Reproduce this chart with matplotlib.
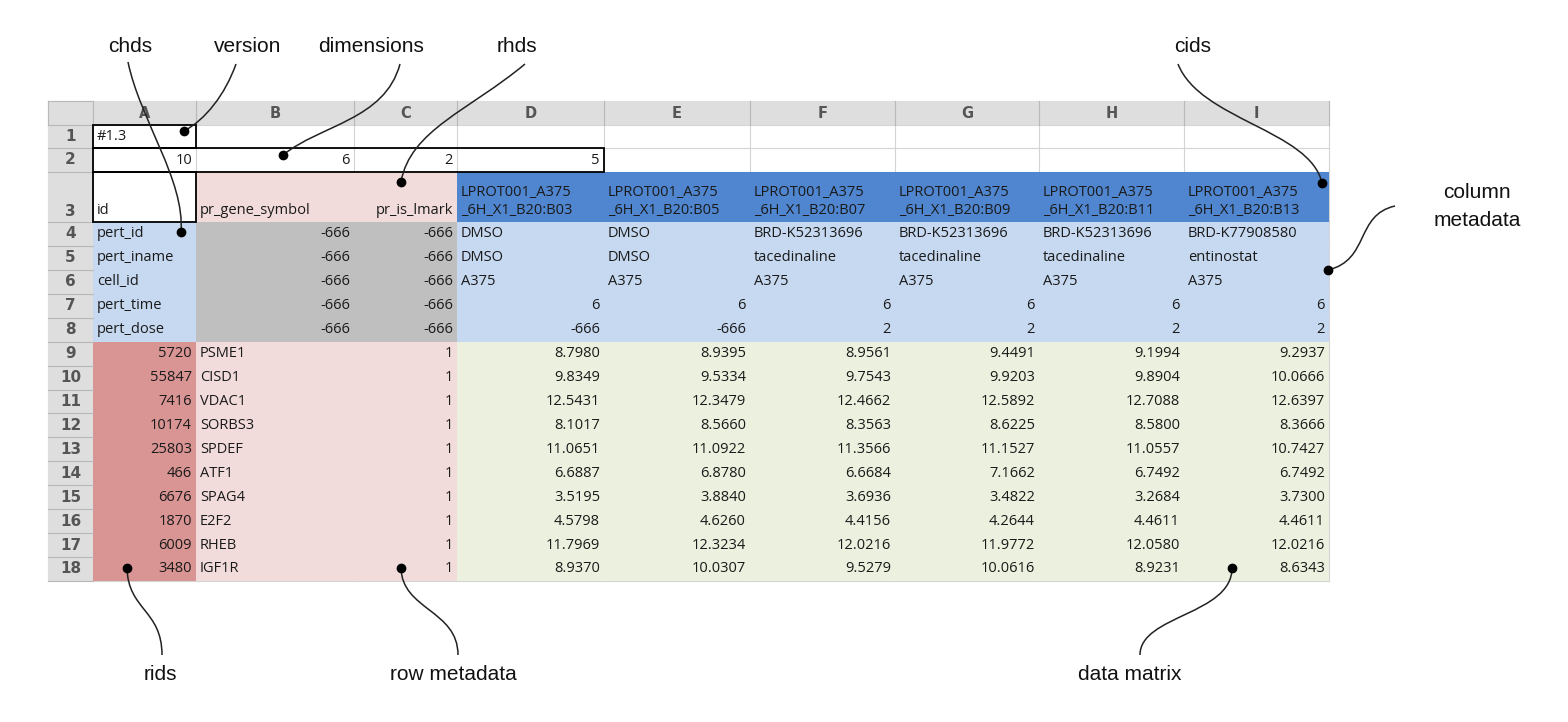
import matplotlib
matplotlib.use("Agg")
import matplotlib.pyplot as plt
from matplotlib.patches import Rectangle, PathPatch
from matplotlib.path import Path

# ---- sheet contents ----
col_letters = ["A", "B", "C", "D", "E", "F", "G", "H", "I"]
cids = ["LPROT001_A375\n_6H_X1_B20:B03", "LPROT001_A375\n_6H_X1_B20:B05",
        "LPROT001_A375\n_6H_X1_B20:B07", "LPROT001_A375\n_6H_X1_B20:B09",
        "LPROT001_A375\n_6H_X1_B20:B11", "LPROT001_A375\n_6H_X1_B20:B13"]
chds = ["pert_id", "pert_iname", "cell_id", "pert_time", "pert_dose"]
col_meta = [
    ["DMSO", "DMSO", "BRD-K52313696", "BRD-K52313696", "BRD-K52313696", "BRD-K77908580"],
    ["DMSO", "DMSO", "tacedinaline", "tacedinaline", "tacedinaline", "entinostat"],
    ["A375"] * 6,
    [6, 6, 6, 6, 6, 6],
    [-666, -666, 2, 2, 2, 2],
]
rids = [5720, 55847, 7416, 10174, 25803, 466, 6676, 1870, 6009, 3480]
gene_symbols = ["PSME1", "CISD1", "VDAC1", "SORBS3", "SPDEF", "ATF1", "SPAG4", "E2F2", "RHEB", "IGF1R"]
is_lmark = [1] * 10
data = [
    [8.7980, 8.9395, 8.9561, 9.4491, 9.1994, 9.2937],
    [9.8349, 9.5334, 9.7543, 9.9203, 9.8904, 10.0666],
    [12.5431, 12.3479, 12.4662, 12.5892, 12.7088, 12.6397],
    [8.1017, 8.5660, 8.3563, 8.6225, 8.5800, 8.3666],
    [11.0651, 11.0922, 11.3566, 11.1527, 11.0557, 10.7427],
    [6.6887, 6.8780, 6.6684, 7.1662, 6.7492, 6.7492],
    [3.5195, 3.8840, 3.6936, 3.4822, 3.2684, 3.7300],
    [4.5798, 4.6260, 4.4156, 4.2644, 4.4611, 4.4611],
    [11.7969, 12.3234, 12.0216, 11.9772, 12.0580, 12.0216],
    [8.9370, 10.0307, 9.5279, 10.0616, 8.9231, 8.6343],
]
version = "#1.3"
dims = [10, 6, 2, 5]

# ---- layout (pixels) ----
xs = [48, 93, 196, 354, 457, 604, 750, 895, 1039, 1184, 1329]   # col edges (rownum, A..I)
rh = 23.93
ys = [101, 125, 148, 172, 222] + [222 + rh * k for k in range(1, 16)]  # row edges (header, 1..18)

C_GRID = "#d4d4d4"
C_HEAD = "#dedede"
C_CID = "#4f86cf"
C_META = "#c6d9f0"
C_GRAY = "#bfbfbf"
C_PINK = "#f2dcdb"
C_RID = "#d99594"
C_DATA = "#ebf1de"

fig = plt.figure(figsize=(15.68, 7.22), dpi=100)
ax = fig.add_axes([0, 0, 1, 1])
ax.set_xlim(0, 1568); ax.set_ylim(722, 0); ax.axis("off")


def cell(c0, c1, r0, r1, color):
    ax.add_patch(Rectangle((xs[c0], ys[r0]), xs[c1] - xs[c0], ys[r1] - ys[r0],
                           facecolor=color, edgecolor="none", zorder=1))


# grid lines
for x in xs:
    ax.plot([x, x], [ys[0], ys[-1]], color=C_GRID, lw=0.8, zorder=0.5)
for y in ys:
    ax.plot([xs[0], xs[-1]], [y, y], color=C_GRID, lw=0.8, zorder=0.5)

# headers
cell(0, 10, 0, 1, C_HEAD)
cell(0, 1, 0, 19, C_HEAD)
for x in xs:
    ax.plot([x, x], [ys[0], ys[1]], color="#b8b8b8", lw=0.8, zorder=1.5)
for y in ys:
    ax.plot([xs[0], xs[1]], [y, y], color="#b8b8b8", lw=0.8, zorder=1.5)

# colored regions
cell(4, 10, 3, 4, C_CID)
cell(2, 4, 3, 4, C_PINK)
cell(1, 2, 4, 9, C_META)
cell(4, 10, 4, 9, C_META)
cell(2, 4, 4, 9, C_GRAY)
cell(1, 2, 9, 19, C_RID)
cell(2, 4, 9, 19, C_PINK)
cell(4, 10, 9, 19, C_DATA)

fnt = dict(family=["Open Sans", "DejaVu Sans"], fontsize=10.5, color="#1a1a1a", zorder=3)


def mid(r):
    return (ys[r] + ys[r + 1]) / 2


def put(c, r, s, align="left", y=None):
    yy = mid(r) if y is None else y
    if align == "left":
        ax.text(xs[c] + 4, yy, s, ha="left", va="center", **fnt)
    else:
        ax.text(xs[c + 1] - 4, yy, s, ha="right", va="center", **fnt)


for i, L in enumerate(col_letters):
    ax.text((xs[i + 1] + xs[i + 2]) / 2, mid(0), L, ha="center", va="center",
            fontsize=10.5, color="#555555", fontweight="bold", zorder=3)
for r in range(1, 19):
    ax.text((xs[0] + xs[1]) / 2, mid(r) if r != 3 else ys[4] - 11, str(r), ha="center", va="center",
            fontsize=11, color="#555555", fontweight="bold", zorder=3)

put(1, 1, version)
for k, d in enumerate(dims):
    put(1 + k, 2, str(d), "right")
y3 = ys[4] - 11
put(1, 3, "id", y=y3)
put(2, 3, "pr_gene_symbol", y=y3)
put(3, 3, "pr_is_lmark", "right", y=y3)
for j, s in enumerate(cids):
    for li, part in enumerate(s.split("\n")):
        put(4 + j, 3, part, y=ys[4] - 30 + li * 19)
for i, name in enumerate(chds):
    r = 4 + i
    put(1, r, name)
    put(2, r, "-666", "right")
    put(3, r, "-666", "right")
    for j, v in enumerate(col_meta[i]):
        put(4 + j, r, str(v), "left" if isinstance(v, str) else "right")
for i in range(10):
    r = 9 + i
    put(1, r, str(rids[i]), "right")
    put(2, r, gene_symbols[i])
    put(3, r, str(is_lmark[i]), "right")
    for j, v in enumerate(data[i]):
        put(4 + j, r, f"{v:.4f}", "right")

# black borders
for (c0, c1, r0, r1) in [(1, 2, 1, 2), (1, 5, 2, 3), (1, 2, 3, 4)]:
    ax.add_patch(Rectangle((xs[c0], ys[r0]), xs[c1] - xs[c0], ys[r1] - ys[r0],
                           facecolor="none", edgecolor="black", lw=1.3, zorder=2.5))

# ---- callouts ----
lab = dict(family=["Liberation Sans", "DejaVu Sans"], fontsize=15, color="#111111", zorder=4)


def callout(p0, c1, c2, p1):
    path = Path([p0, c1, c2, p1], [Path.MOVETO, Path.CURVE4, Path.CURVE4, Path.CURVE4])
    ax.add_patch(PathPatch(path, facecolor="none", edgecolor="#222222", lw=1.1, zorder=4))
    ax.plot(*p1, "o", color="black", ms=6, zorder=5)


ax.text(130, 47, "chds", ha="center", va="center", **lab)
ax.text(248, 47, "version", ha="center", va="center", **lab)
ax.text(371, 47, "dimensions", ha="center", va="center", **lab)
ax.text(517, 47, "rhds", ha="center", va="center", **lab)
ax.text(1193, 47, "cids", ha="center", va="center", **lab)
ax.text(1477, 193, "column", ha="center", va="center", **lab)
ax.text(1477, 220, "metadata", ha="center", va="center", **lab)
ax.text(160, 675, "rids", ha="center", va="center", **lab)
ax.text(453, 675, "row metadata", ha="center", va="center", **lab)
ax.text(1130, 675, "data matrix", ha="center", va="center", **lab)

callout((128, 62), (140, 120), (185, 180), (181, 232))
callout((236, 64), (225, 95), (205, 120), (184, 131))
callout((400, 64), (385, 120), (320, 125), (283, 155))
callout((525, 64), (470, 110), (410, 130), (401, 182))
callout((1178, 64), (1200, 120), (1310, 130), (1322, 183))
callout((1395, 206), (1355, 215), (1370, 260), (1328, 270))
callout((162, 655), (162, 610), (128, 610), (127, 568))
callout((458, 655), (458, 610), (402, 610), (401, 568))
callout((1140, 655), (1140, 615), (1232, 615), (1232, 568))

fig.savefig("out.png", dpi=100)
